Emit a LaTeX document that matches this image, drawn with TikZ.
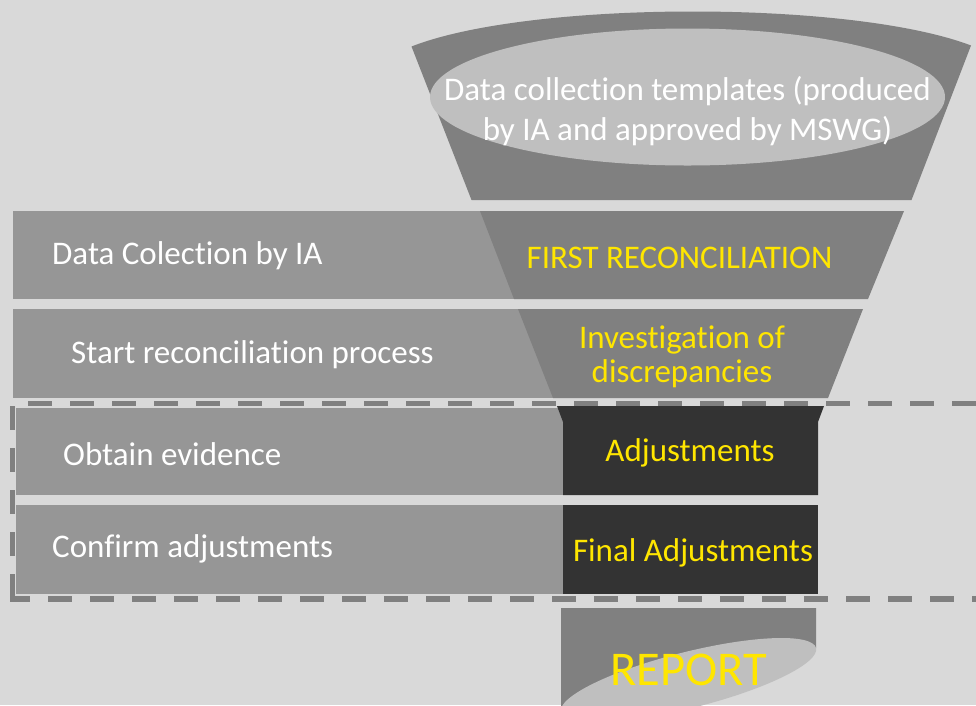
\documentclass[tikz,border=0pt]{standalone}
\usepackage{fontspec}
\setmainfont[Ligatures=NoCommon]{Carlito}
\definecolor{bg}{HTML}{D9D9D9}
\definecolor{bar}{HTML}{969696}
\definecolor{fun}{HTML}{808080}
\definecolor{ell}{HTML}{BFBFBF}
\definecolor{dark}{HTML}{333333}
\definecolor{yel}{HTML}{FFE600}
\definecolor{dashc}{HTML}{808080}
\tikzset{
  barfill/.style={fill=bar},
  funfill/.style={fill=fun},
  ellfill/.style={fill=ell},
  darkfill/.style={fill=dark},
  wtext/.style={text=white, inner sep=0pt, font=\fontsize{33}{40}\selectfont},
  ytext/.style={text=yel, inner sep=0pt, font=\fontsize{33}{40}\selectfont},
  dashline/.style={draw=dashc, line width=5.5pt, dash pattern=on 24pt off 18pt},
}
\begin{document}
\begin{tikzpicture}[x=1pt,y=-1pt]
\useasboundingbox (0,0) rectangle (976,705);
\clip (0,0) rectangle (976,705);
\fill[bg] (0,0) rectangle (976,705);
% left bars
\fill[barfill] (13,211) rectangle (620,299);
\fill[barfill] (13,309) rectangle (620,397.5);
\fill[barfill] (16,408) rectangle (563,495);
\fill[barfill] (16,505) rectangle (563,594);
% funnel top piece
\fill[funfill] (411.5,46.5) .. controls (530,0) and (852,0) .. (971,45.5) -- (911.5,200) -- (471.5,200) -- cycle;
\fill[ellfill] (687.5,97) ellipse [x radius=257.5pt, y radius=68.5pt];
% funnel pieces
\fill[funfill] (480,211) -- (904,211) -- (868,299) -- (514,299) -- cycle;
\fill[funfill] (518,309) -- (863,309) -- (828,398) -- (553,398) -- cycle;
% dark boxes
\fill[darkfill] (557,406) -- (824,406) -- (818,422) -- (818,495) -- (563,495) -- (563,422) -- cycle;
\fill[darkfill] (563,505) rectangle (818,594);
% report cylinder
\fill[funfill] (561,608) -- (816,608) -- (816,648) -- (561,712) -- cycle;
\fill[ellfill, rotate around={14.1:(688.5,680)}] (688.5,680) ellipse [x radius=131.5pt, y radius=28pt];
% dashed frame
\draw[dashline, dash phase=32.7pt] (985,403.5) -- (12.5,403.5) -- (12.5,599);
\draw[dashline, dash phase=4pt] (10,599) -- (985,599);
% texts
\node[wtext, align=center] (top) at (687.5,111) {Data collection templates (produced\\by IA and approved by MSWG)};
\node[wtext, anchor=base west] (t1) at (52,264) {Data Colection by IA};
\node[wtext, anchor=base west] (t2) at (71,363) {Start reconciliation process};
\node[wtext, anchor=base west] (t3) at (63,465) {Obtain evidence};
\node[wtext, anchor=base west] (t4) at (52,557) {Confirm adjustments};
\node[ytext, anchor=base] (r1) at (679.5,268) {FIRST RECONCILIATION};
\node[ytext, align=center, font=\fontsize{33}{34.5}\selectfont] (r2) at (682,357) {Investigation of\\discrepancies};
\node[ytext, anchor=base] (r3) at (690,461) {Adjustments};
\node[ytext, anchor=base] (r4) at (693,561) {Final Adjustments};
\node[text=yel, inner sep=0pt, anchor=base, font=\fontsize{48.5}{58}\selectfont] (rep) at (688.5,685) {REPORT};
\end{tikzpicture}
\end{document}
